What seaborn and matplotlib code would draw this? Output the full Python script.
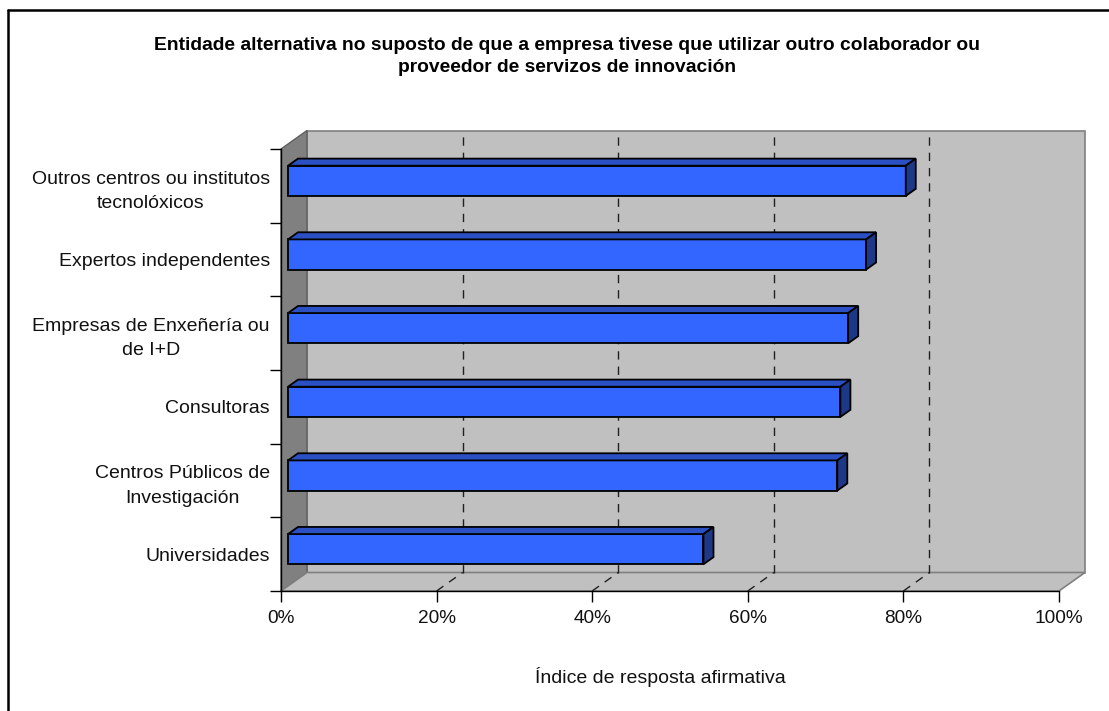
import matplotlib
matplotlib.use("Agg")
import matplotlib.pyplot as plt
from matplotlib.patches import Polygon, Rectangle
from matplotlib.ticker import FixedLocator, NullFormatter
import seaborn as sns
import pandas as pd

categories = [
    "Outros centros ou institutos\ntecnolóxicos",
    "Expertos independentes",
    "Empresas de Enxeñería ou\nde I+D",
    "Consultoras",
    "Centros Públicos de\nInvestigación",
    "Universidades",
]
values = [79.4, 74.3, 72.0, 71.0, 70.6, 53.4]
x_ticks = [0, 20, 40, 60, 80, 100]
x_tick_labels = ["0%", "20%", "40%", "60%", "80%", "100%"]
title = ("Entidade alternativa no suposto de que a empresa tivese que utilizar outro colaborador ou\n"
         "proveedor de servizos de innovación")
x_label = "Índice de resposta afirmativa"

sns.set_theme(style="white")
plt.rcParams["font.family"] = ["Liberation Sans", "DejaVu Sans"]

W, H = 1109, 711
fig = plt.figure(figsize=(W / 100, H / 100), dpi=100)
fig.patch.set_facecolor("white")

# front plane of the 3-D box, in pixels
left_px, right_px, top_px, bottom_px = 281, 1059, 149, 591
ax = fig.add_axes([left_px / W, (H - bottom_px) / H,
                   (right_px - left_px) / W, (bottom_px - top_px) / H])
ax.set_facecolor("none")

n = len(categories)
px_per_x = (right_px - left_px) / 100.0
px_per_y = (bottom_px - top_px) / n
# depth of the box expressed in data units (right and up)
DX = 26 / px_per_x
DY = -18.5 / px_per_y
y_lo, y_hi = n - 0.5, -0.5

wall_grey = "#C0C0C0"
side_grey = "#808080"

# back wall
ax.add_patch(Rectangle((DX, y_hi + DY), 100, n, facecolor=wall_grey,
                       edgecolor=side_grey, lw=1.2, clip_on=False, zorder=0))
# left wall
ax.add_patch(Polygon([(0, y_lo), (0, y_hi), (DX, y_hi + DY), (DX, y_lo + DY)],
                     closed=True, facecolor=side_grey, edgecolor="#606060",
                     lw=1.0, clip_on=False, zorder=0.5))
# floor
ax.add_patch(Polygon([(0, y_lo), (100, y_lo), (100 + DX, y_lo + DY), (DX, y_lo + DY)],
                     closed=True, facecolor=wall_grey, edgecolor=side_grey,
                     lw=1.2, clip_on=False, zorder=0.5))

# dashed gridlines on the back wall and across the floor
for xv in x_ticks[1:-1]:
    ax.plot([xv + DX, xv + DX], [y_lo + DY, y_hi + DY], color="#202020",
            lw=1.0, ls=(0, (6, 5)), clip_on=False, zorder=1)
    ax.plot([xv, xv + DX], [y_lo, y_lo + DY], color="#202020",
            lw=1.0, ls=(0, (6, 5)), clip_on=False, zorder=1)

df = pd.DataFrame({"categoria": categories, "indice": values})
bar_w = 0.41
sns.barplot(data=df, x="indice", y="categoria", orient="h", width=bar_w,
            color="#3366FF", saturation=1, edgecolor="black", linewidth=1.3,
            ax=ax, zorder=3)

# give each bar a top and an end face so it reads as a 3-D block
f0, fd = 0.27, 0.385
for bar in ax.patches[-n:]:
    bar.set_x(bar.get_x() + f0 * DX)
    bar.set_y(bar.get_y() + f0 * DY)
    bar.set_clip_on(False)
    x0 = bar.get_x()
    x1 = x0 + bar.get_width()
    yt = bar.get_y()
    yb = yt + bar.get_height()
    ddx, ddy = fd * DX, fd * DY
    ax.add_patch(Polygon([(x0, yt), (x1, yt), (x1 + ddx, yt + ddy), (x0 + ddx, yt + ddy)],
                         closed=True, facecolor="#2A50C4", edgecolor="black",
                         lw=1.3, clip_on=False, zorder=3))
    ax.add_patch(Polygon([(x1, yt), (x1 + ddx, yt + ddy), (x1 + ddx, yb + ddy), (x1, yb)],
                         closed=True, facecolor="#1E3888", edgecolor="black",
                         lw=1.3, clip_on=False, zorder=3))

ax.set_xlim(0, 100)
ax.set_ylim(y_lo, y_hi)
ax.set_xlabel("")
ax.set_ylabel("")

for side in ("top", "right"):
    ax.spines[side].set_visible(False)
for side in ("left", "bottom"):
    ax.spines[side].set_color("black")
    ax.spines[side].set_linewidth(1.0)
    ax.spines[side].set_zorder(2)

ax.set_xticks(x_ticks)
ax.set_xticklabels(x_tick_labels, fontsize=13.7, color="#111111")
ax.tick_params(axis="x", which="major", direction="out", length=8, width=1,
               color="black", pad=6, bottom=True)

# category separators as major ticks, names as minor ticks
ax.yaxis.set_major_locator(FixedLocator([i - 0.5 for i in range(n + 1)]))
ax.yaxis.set_major_formatter(NullFormatter())
ax.yaxis.set_minor_locator(FixedLocator(list(range(n))))
ax.set_yticklabels(categories, minor=True, fontsize=14, color="#111111",
                   multialignment="center", linespacing=1.55)
ax.tick_params(axis="y", which="minor", length=0, pad=8)
ax.tick_params(axis="y", which="major", direction="out", length=8, width=1,
               color="black", left=True)

fig.text(567 / W, 1 - 56.5 / H, title, ha="center", va="center", fontsize=13.9,
         fontweight="bold", color="black", linespacing=1.4)
fig.text(660 / W, 1 - 677 / H, x_label, ha="center", va="center",
         fontsize=14, color="#111111")

# chart border (only the left and top edges fall inside the image)
fig.add_artist(plt.Line2D([8 / W, 8 / W], [0, 1 - 10 / H], color="black",
                          lw=1.8, transform=fig.transFigure))
fig.add_artist(plt.Line2D([8 / W, 1], [1 - 10 / H, 1 - 10 / H], color="black",
                          lw=1.8, transform=fig.transFigure))

fig.savefig("out.png", dpi=100, facecolor="white")
